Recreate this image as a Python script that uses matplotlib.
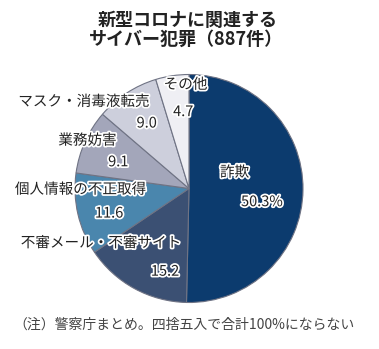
import matplotlib.pyplot as plt
import matplotlib.patheffects as pe

plt.rcParams['font.family'] = ['Noto Sans CJK JP', 'DejaVu Sans']

# data
labels = ['詐欺', '不審メール・不審サイト', '個人情報の不正取得', '業務妨害', 'マスク・消毒液転売', 'その他']
values = [50.3, 15.2, 11.6, 9.1, 9.0, 4.7]
value_text = ['50.3%', '15.2', '11.6', '9.1', '9.0', '4.7']
colors = ['#0c3b6e', '#3b5073', '#4a86ad', '#a3a6ba', '#cdcfdc', '#efeff4']

# label positions (data coords, pie radius 1)
name_pos = [(0.40, 0.14), (-0.77, -0.48), (-0.95, -0.01), (-0.89, 0.42), (-0.92, 0.76), (-0.03, 0.91)]
val_pos = [(0.64, -0.12), (-0.21, -0.73), (-0.70, -0.22), (-0.62, 0.23), (-0.37, 0.57), (-0.05, 0.67)]

fig = plt.figure(figsize=(3.79, 3.49), dpi=100)
cx, cy, r = 189, 188.5, 114
ax = fig.add_axes([(cx - r) / 379, (349 - cy - r) / 349, 2 * r / 379, 2 * r / 349])
ax.pie(values, colors=colors, startangle=90, counterclock=False, radius=1,
       wedgeprops=dict(edgecolor='#6f7384', linewidth=0.8))
ax.set_xlim(-1, 1)
ax.set_ylim(-1, 1)
ax.set_aspect('equal')
ax.axis('off')

stroke = [pe.withStroke(linewidth=2.5, foreground='white')]
for i in range(len(labels)):
    ax.text(name_pos[i][0], name_pos[i][1], labels[i], ha='center', va='center',
            fontsize=10.5, color='#222222', path_effects=stroke)
    ax.text(val_pos[i][0], val_pos[i][1], value_text[i], ha='center', va='center',
            fontsize=10.5, color='#222222', path_effects=stroke)

fig.text(188 / 379, 1 - 20 / 349, '新型コロナに関連する', ha='center', va='center',
         fontsize=13, fontweight='bold', color='#222222')
fig.text(186 / 379, 1 - 39 / 349, 'サイバー犯罪（887件）', ha='center', va='center',
         fontsize=13, fontweight='bold', color='#222222')
fig.text(13 / 379, 1 - 325 / 349, '（注）警察庁まとめ。四捨五入で合計100%にならない',
         ha='left', va='center', fontsize=10, color='#444444')

fig.savefig('out.png', dpi=100)
